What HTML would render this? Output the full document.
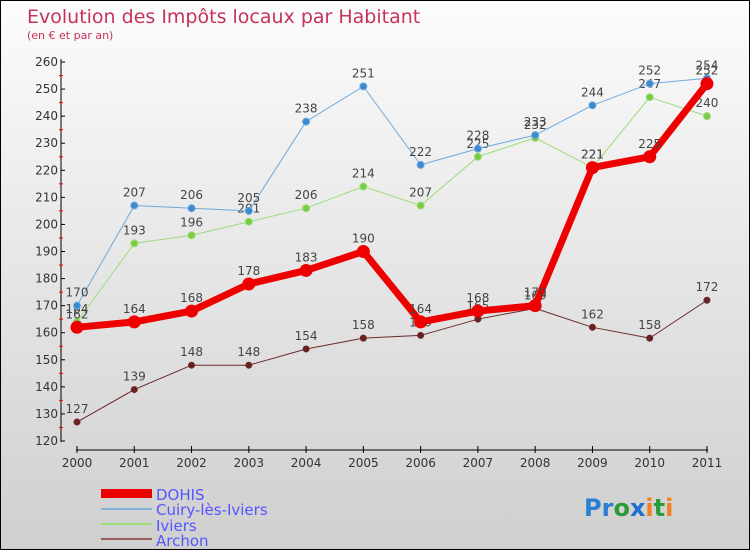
<!DOCTYPE html>
<html><head><meta charset="utf-8"><style>
body{margin:0}
#c{width:750px;height:550px;position:relative;box-sizing:border-box;border:1px solid #000;background:linear-gradient(#fcfcfc,#cfcfcf);font-family:"DejaVu Sans","Liberation Sans",sans-serif;overflow:hidden}
</style></head><body>
<div id="c">
<svg id="s" width="750" height="550" style="position:absolute;left:0;top:0">
<text x="26" y="22" font-size="19" fill="#c8325a">Evolution des Impôts locaux par Habitant</text>
<text x="26" y="38" font-size="11" fill="#c8325a">(en € et par an)</text>
<g id="axes"></g><g id="series"></g>
<g font-size="15" fill="#5555ff">
<rect x="100" y="488" width="51" height="9" fill="#e00"/>
<text x="155" y="499">DOHIS</text>
<rect x="100" y="507" width="51" height="2" fill="#80aed8"/>
<text x="155" y="514">Cuiry-lès-Iviers</text>
<rect x="100" y="522" width="51" height="2" fill="#9bdd77"/>
<text x="155" y="530">Iviers</text>
<rect x="100" y="537" width="51" height="2" fill="#9a5a5a"/>
<text x="155" y="545">Archon</text>
</g>
<text x="583" y="515" font-size="24" font-weight="bold"><tspan fill="#2a7fd0">Pr</tspan><tspan fill="#2a9a3a">o</tspan><tspan fill="#1f6fd0">x</tspan><tspan fill="#f08020">i</tspan><tspan fill="#2a9a3a">t</tspan><tspan fill="#f08020">i</tspan></text>
</svg>
</div>
<script>
const years=["2000","2001","2002","2003","2004","2005","2006","2007","2008","2009","2010","2011"];
const yTicks=[120,130,140,150,160,170,180,190,200,210,220,230,240,250,260];
const dohis=[162,164,168,178,183,190,164,168,170,221,225,252];
const cuiry=[170,207,206,205,238,251,222,228,233,244,252,254];
const iviers=[164,193,196,201,206,214,207,225,232,221,247,240];
const archon=[127,139,148,148,154,158,159,165,169,162,158,172];
const NS="http://www.w3.org/2000/svg";
const X=i=>76+i*57.27;
const Y=v=>440-(v-120)*2.707;
function mk(t,a,p){const e=document.createElementNS(NS,t);for(const k in a)e.setAttribute(k,a[k]);p.appendChild(e);return e;}
const ax=document.getElementById('axes');
let l=mk('line',{x1:60,y1:58,x2:60,y2:441,stroke:'#000'},ax);


yTicks.forEach(v=>{
 mk('line',{x1:60,y1:Y(v),x2:64,y2:Y(v),stroke:'#000'},ax);
 if(v<260)mk('line',{x1:58,y1:Y(v+5),x2:62,y2:Y(v+5),stroke:'#e00'},ax);
 const t=mk('text',{x:57,y:Y(v)+4,'font-size':12,fill:'#333','text-anchor':'end'},ax);t.textContent=v;
 
 
});
l=mk('line',{x1:75,y1:449,x2:707,y2:449,stroke:'#000'},ax);


years.forEach((y,i)=>{
 mk('line',{x1:X(i),y1:445,x2:X(i),y2:452,stroke:'#000'},ax);
 const t=mk('text',{x:X(i),y:466,'font-size':12,fill:'#333','text-anchor':'middle'},ax);t.textContent=y;
 
 
});
const sg=document.getElementById('series');
function series(d,name,col,w,r,dot){
 const g=mk('g',{},sg);
 
 
 const p=mk('polyline',{points:d.map((v,i)=>X(i)+','+Y(v)).join(' '),fill:'none',stroke:col,'stroke-width':w,'stroke-linejoin':'round'},g);
 
 
 d.forEach((v,i)=>{
  const c=mk('circle',{cx:X(i),cy:Y(v),r:r,fill:dot,stroke:col,'stroke-width':1},g);
  
  
  const t=mk('text',{x:X(i),y:Y(v)-9,'font-size':12,fill:'#444','text-anchor':'middle'},g);t.textContent=v;
  
  
 });
}
series(archon,'archon','#6a2a2a',1,3,'#6a2020');
series(iviers,'iviers','#9bdd77',1,3.5,'#7acc44');
series(cuiry,'cuiry','#6fa8dc',1,3.5,'#3a8ad0');
series(dohis,'dohis','#ee0000',7,6,'#ee0000');
</script>
</body></html>
